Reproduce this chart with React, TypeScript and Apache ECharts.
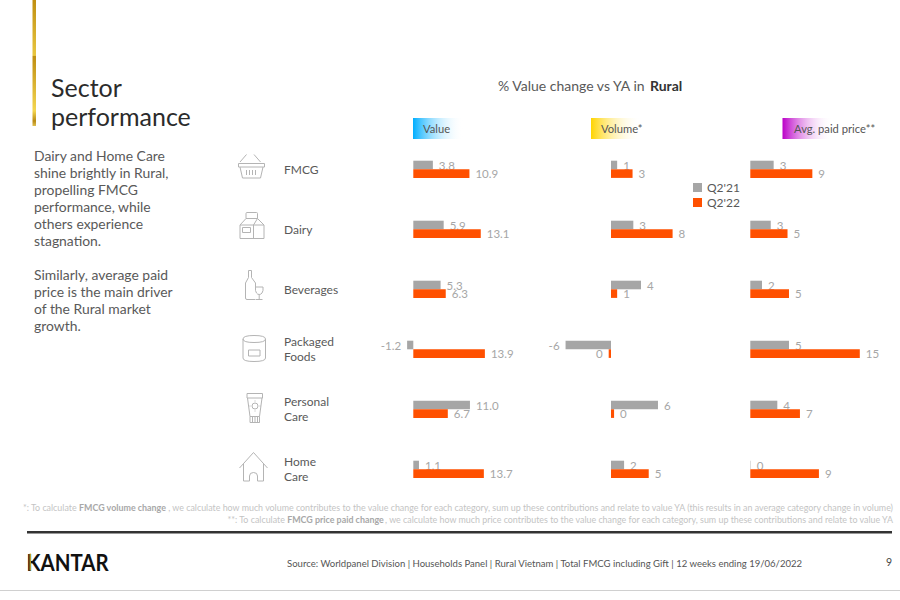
import React, { useEffect, useRef } from "react";
import * as echarts from "echarts";

const FONT = "Lato";
const categories = ["FMCG", "Dairy", "Beverages", "Packaged\nFoods", "Personal\nCare", "Home\nCare"];
const seriesNames = ["Q2'21", "Q2'22"];

const valuePrev = [3.8, 5.9, 5.3, -1.2, 11.0, 1.1];
const valueCurr = [10.9, 13.1, 6.3, 13.9, 6.7, 13.7];
const valuePrevLabels = ["3.8", "5.9", "5.3", "-1.2", "11.0", "1.1"];
const valueCurrLabels = ["10.9", "13.1", "6.3", "13.9", "6.7", "13.7"];

const volumePrev = [0.8, 2.9, 3.9, -5.9, 6.1, 1.7];
const volumeCurr = [2.8, 8.0, 0.8, -0.3, 0.4, 4.9];
const volumePrevLabels = ["1", "3", "4", "-6", "6", "2"];
const volumeCurrLabels = ["3", "8", "1", "0", "0", "5"];

const pricePrev = [3.2, 2.8, 1.6, 5.3, 3.7, 0.05];
const priceCurr = [8.5, 5.1, 5.3, 15.0, 6.8, 9.4];
const pricePrevLabels = ["3", "3", "2", "5", "4", "0"];
const priceCurrLabels = ["9", "5", "5", "15", "7", "9"];

const bodyLines = [
  "Dairy and Home Care", "shine brightly in Rural,", "propelling FMCG", "performance, while",
  "others experience", "stagnation.", "", "Similarly, average paid", "price is the main driver",
  "of the Rural market", "growth.",
];

const ICONS: Record<string, string> = {
  basket: "M240 162L246.5 154.5M260.5 162L254 154.5M238.5 163.5H264.5V167H238.5ZM240 167L242.5 178H260.5L263 167M246.5 170V175M249.5 170V175M252.5 170V175M255.5 170V175",
  milk: "M240 238.5V225L246 218.5V213.5Q246 212.5 247 212.5H256.5Q257.5 212.5 257.5 213.5V218.5L264 225V238.5ZM240 225H264M253.5 238.5V225L257.5 218.5M246 218.5H257.5M242.5 227.5H250.5V232.5H242.5Z",
  bottle: "M248.5 270.5H251.5V277.5L255.5 283V287M248.5 270.5V277.5L245.5 283V298Q245.5 299.5 247 299.5H255.5M255.5 287H263Q263.5 291 262 293Q261 294.5 259.2 294.5Q257.5 294.5 256.5 293Q255 291 255.5 287ZM259.2 294.5V299.5M256 299.5H262.5",
  can: "M243 339V358Q243 361.5 254 361.5Q265.5 361.5 265.5 358V339M243 339Q243 335.5 254 335.5Q265.5 335.5 265.5 339Q265.5 342.5 254 342.5Q243 342.5 243 339ZM248.5 350H260V356H248.5Z",
  tube: "M247 393.5H262.5V398H247ZM247.5 398L250 416.5H259.5L262 398M250 416.5V422.5H259.5V416.5M250 422.5H259.5M252.5 417V422M255 417V422M257.5 417V422M252 406A3 3 0 1 0 258 406A3 3 0 1 0 252 406M255 400.5V401.5M255 410.5V411.5M249.5 406H250.5M259.5 406H260.5",
  house: "M239.5 468L253.5 452.5L267.5 468M243.5 464V481H249.5V476Q249.5 472.5 253.5 472.5Q257.5 472.5 257.5 476V481H263.5V464",
};
Object.keys(ICONS).forEach((k) => {
  echarts.graphic.registerShape("icon_" + k, echarts.graphic.extendPath(ICONS[k], {}) as any);
});

const labelBase = { color: "#a6a6a6", fontFamily: FONT, fontSize: 11.5 };

function makeSeries(idx: number, name: string, z: number, color: string, values: number[], labels: string[]) {
  return {
    type: "bar",
    name,
    xAxisIndex: idx,
    yAxisIndex: idx,
    z,
    barWidth: 8.6,
    barGap: 0,
    itemStyle: { color },
    data: values.map((v, i) => ({
      value: v,
      label: {
        show: true,
        position: v < 0 ? "left" : "right",
        distance: 6,
        formatter: labels[i],
        ...labelBase,
      },
    })),
  };
}

function chip(x: number, color: string, label: string, textX: number) {
  return [
    {
      type: "rect",
      shape: { x, y: 118, width: 50, height: 21 },
      style: {
        fill: new echarts.graphic.LinearGradient(0, 0, 1, 0, [
          { offset: 0, color },
          { offset: 1, color: "rgba(255,255,255,0)" },
        ]),
      },
    },
    {
      type: "text",
      x: textX,
      y: 128.5,
      z: 5,
      style: { text: label, fontFamily: FONT, fontSize: 11.2, fill: "#555", verticalAlign: "middle" },
    },
  ];
}

function plain(text: string, x: number, y: number, fontSize: number, fill: string, extra: any = {}) {
  return { type: "text", x, y, style: { text, fontFamily: FONT, fontSize, fill, verticalAlign: "middle", ...extra } };
}

export default function App() {
  const ref = useRef<HTMLDivElement>(null);
  useEffect(() => {
    document.body.style.margin = "0";
    const chart = echarts.init(ref.current!, null, { renderer: "svg" });
    const grids = [
      { left: 392.7, top: 139.3, width: 103, height: 360 },
      { left: 549.4, top: 139.3, width: 138.6, height: 360 },
      { left: 735.7, top: 139.3, width: 131.4, height: 360 },
    ];
    const ranges = [[-4, 16], [-8, 10], [-2, 16]];
    const noteRich = {
      n: { fontFamily: FONT, fontSize: 8.9, fill: "#c4c4c4", color: "#c4c4c4" },
      b: { fontFamily: FONT, fontSize: 8.9, fontWeight: "bold", fill: "#a8a8a8", color: "#a8a8a8" },
    };
    const graphicEls: any[] = [
      {
        type: "rect",
        shape: { x: 32.5, y: 0, width: 3.5, height: 126 },
        style: {
          fill: new echarts.graphic.LinearGradient(0, 0, 0, 1, [
            { offset: 0, color: "#c08f12" },
            { offset: 0.44, color: "#e8c640" },
            { offset: 0.445, color: "#bf8e12" },
            { offset: 0.88, color: "#f4d650" },
            { offset: 0.96, color: "#b98a14" },
            { offset: 1, color: "#e0c050" },
          ]),
        },
      },
      plain("Sector", 51, 86.5, 25, "#2b2b2b"),
      plain("performance", 51, 115.5, 25, "#2b2b2b"),
      ...bodyLines.filter((l) => l).map((l) => {
        const i = bodyLines.indexOf(l);
        return plain(l, 34, 155 + i * 17.05, 13.9, "#595959");
      }),
      ...Object.keys(ICONS).map((k) => ({
        type: "icon_" + k,
        x: 0,
        y: 0,
        style: { fill: "none", stroke: "#b4b4b4", lineWidth: 1 },
      })),
      ...chip(413, "#00aeff", "Value", 423),
      ...chip(591, "#ffd400", "Volume*", 601),
      ...chip(782.5, "#bb00c8", "Avg. paid price**", 794),
      {
        type: "text",
        x: 893,
        y: 507.7,
        style: {
          text: "{n|*: To calculate }{b|FMCG volume change}{n|, we calculate how much volume contributes to the value change for each category, sum up these contributions and relate to value YA (this results in an average category change in volume)}",
          rich: noteRich,
          align: "right",
          verticalAlign: "middle",
          fontFamily: FONT,
          fontSize: 8.9,
        },
      },
      {
        type: "text",
        x: 893,
        y: 519.3,
        style: {
          text: "{n|**: To calculate }{b|FMCG price paid change}{n|, we calculate how much price contributes to the value change for each category, sum up these contributions and relate to value YA}",
          rich: noteRich,
          align: "right",
          verticalAlign: "middle",
          fontFamily: FONT,
          fontSize: 8.9,
        },
      },
      { type: "rect", shape: { x: 27, y: 531, width: 865, height: 2.6 }, style: { fill: "#333" } },
      {
        type: "text",
        x: 26.5,
        y: 562,
        scaleX: 0.87,
        style: { text: "KANTAR", fontFamily: FONT, fontSize: 23.5, fill: "#111", fontWeight: "bold", verticalAlign: "middle" },
      },
      { type: "rect", z: 5, shape: { x: 29.6, y: 553.5, width: 1.2, height: 17 }, style: { fill: "#e8b923" } },
      plain("Source: Worldpanel Division | Households Panel | Rural Vietnam | Total FMCG including Gift | 12 weeks ending 19/06/2022", 287, 563, 9.55, "#555"),
      plain("9", 886, 562, 10.5, "#444"),
      { type: "rect", shape: { x: 0, y: 590, width: 900, height: 1 }, style: { fill: "#d0d0d0" } },
    ];

    chart.setOption({
      animation: false,
      backgroundColor: "#fff",
      title: {
        left: 498,
        top: 78,
        padding: 0,
        text: "{a|% Value change vs YA in }{b|Rural}",
        textStyle: {
          fontWeight: "normal",
          rich: {
            a: { fontFamily: FONT, fontSize: 14, fontWeight: "normal", color: "#595959" },
            b: { fontFamily: FONT, fontSize: 14, fontWeight: "bold", color: "#333" },
          },
        },
      },
      legend: {
        data: seriesNames,
        orient: "vertical",
        left: 693,
        top: 181.5,
        padding: 0,
        itemWidth: 9,
        itemHeight: 9,
        itemGap: 3,
        icon: "rect",
        textStyle: { fontFamily: FONT, fontSize: 12, color: "#595959", padding: [0, 0, 0, 0] },
      },
      grid: grids,
      xAxis: ranges.map((r, i) => ({
        type: "value",
        gridIndex: i,
        min: r[0],
        max: r[1],
        show: false,
      })),
      yAxis: ranges.map((_, i) => ({
        type: "category",
        gridIndex: i,
        inverse: true,
        data: categories,
        axisLine: { show: false },
        axisTick: { show: false },
        axisLabel:
          i === 0
            ? {
                show: true,
                margin: 392.7 - 284,
                align: "left",
                fontFamily: FONT,
                fontSize: 12,
                lineHeight: 15,
                color: "#595959",
              }
            : { show: false },
      })),
      series: [
        makeSeries(0, seriesNames[0], 2, "#a6a6a6", valuePrev, valuePrevLabels),
        makeSeries(0, seriesNames[1], 3, "#ff5000", valueCurr, valueCurrLabels),
        makeSeries(1, seriesNames[0], 2, "#a6a6a6", volumePrev, volumePrevLabels),
        makeSeries(1, seriesNames[1], 3, "#ff5000", volumeCurr, volumeCurrLabels),
        makeSeries(2, seriesNames[0], 2, "#a6a6a6", pricePrev, pricePrevLabels),
        makeSeries(2, seriesNames[1], 3, "#ff5000", priceCurr, priceCurrLabels),
      ],
      graphic: { elements: graphicEls },
    });
    return () => chart.dispose();
  }, []);
  return <div ref={ref} style={{ width: 900, height: 600 }} />;
}
